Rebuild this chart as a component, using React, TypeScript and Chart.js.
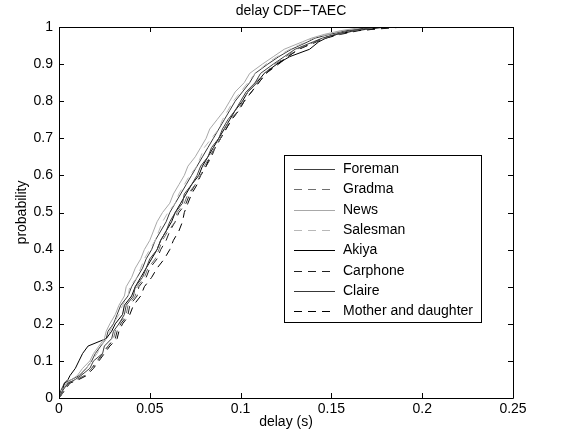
import React, { useEffect, useRef } from "react";
import { Chart, registerables } from "chart.js";

Chart.register(...registerables);

const TITLE = "delay CDF\u2212TAEC";
const X_LABEL = "delay (s)";
const Y_LABEL = "probability";

const PROB_LEVELS = [0, 0.02, 0.04, 0.05, 0.06, 0.08, 0.1, 0.12, 0.14, 0.16, 0.18, 0.2, 0.225, 0.25, 0.275, 0.3, 0.325, 0.35, 0.375, 0.4, 0.425, 0.45, 0.475, 0.5, 0.525, 0.55, 0.575, 0.6, 0.625, 0.65, 0.675, 0.7, 0.725, 0.75, 0.775, 0.8, 0.825, 0.85, 0.875, 0.9, 0.92, 0.94, 0.96, 0.97, 0.98, 0.99, 1.0];

const FOREMAN = [0, 0.002, 0.005, 0.009, 0.012, 0.017, 0.019, 0.024, 0.025, 0.029, 0.03, 0.033, 0.036, 0.037, 0.041, 0.042, 0.046, 0.048, 0.05, 0.054, 0.056, 0.059, 0.061, 0.064, 0.068, 0.069, 0.073, 0.076, 0.078, 0.082, 0.084, 0.088, 0.09, 0.093, 0.097, 0.1, 0.103, 0.108, 0.111, 0.118, 0.124, 0.13, 0.14, 0.145, 0.152, 0.16, 0.175];
const GRADMA = [0, 0.003, 0.005, 0.01, 0.014, 0.018, 0.022, 0.024, 0.027, 0.03, 0.031, 0.033, 0.037, 0.038, 0.042, 0.043, 0.047, 0.049, 0.053, 0.055, 0.057, 0.06, 0.064, 0.065, 0.069, 0.071, 0.075, 0.078, 0.08, 0.083, 0.086, 0.089, 0.091, 0.094, 0.099, 0.101, 0.104, 0.108, 0.113, 0.119, 0.125, 0.131, 0.141, 0.146, 0.153, 0.162, 0.178];
const NEWS = [0, 0.002, 0.004, 0.007, 0.01, 0.013, 0.017, 0.019, 0.022, 0.025, 0.026, 0.028, 0.031, 0.033, 0.036, 0.037, 0.04, 0.042, 0.045, 0.047, 0.05, 0.052, 0.054, 0.057, 0.061, 0.063, 0.066, 0.069, 0.071, 0.075, 0.078, 0.081, 0.083, 0.087, 0.091, 0.094, 0.097, 0.102, 0.105, 0.112, 0.118, 0.124, 0.134, 0.139, 0.146, 0.155, 0.168];
const SALESMAN = [0, 0.002, 0.004, 0.008, 0.012, 0.015, 0.018, 0.021, 0.023, 0.026, 0.028, 0.03, 0.033, 0.035, 0.038, 0.039, 0.043, 0.045, 0.047, 0.05, 0.053, 0.055, 0.057, 0.06, 0.064, 0.066, 0.069, 0.072, 0.076, 0.078, 0.08, 0.084, 0.088, 0.09, 0.093, 0.096, 0.1, 0.104, 0.108, 0.114, 0.12, 0.127, 0.136, 0.14, 0.148, 0.156, 0.172];
const AKIYA = [0, 0.002, 0.003, 0.005, 0.006, 0.009, 0.011, 0.013, 0.016, 0.026, 0.029, 0.031, 0.035, 0.036, 0.04, 0.042, 0.045, 0.048, 0.051, 0.054, 0.056, 0.059, 0.062, 0.064, 0.067, 0.07, 0.073, 0.077, 0.079, 0.082, 0.085, 0.088, 0.091, 0.094, 0.097, 0.101, 0.104, 0.109, 0.113, 0.12, 0.127, 0.138, 0.143, 0.147, 0.153, 0.163, 0.18];
const CARPHONE = [0, 0.003, 0.005, 0.01, 0.014, 0.018, 0.021, 0.024, 0.027, 0.031, 0.032, 0.034, 0.038, 0.039, 0.043, 0.044, 0.048, 0.05, 0.054, 0.056, 0.059, 0.061, 0.064, 0.066, 0.07, 0.072, 0.075, 0.078, 0.081, 0.084, 0.086, 0.089, 0.092, 0.095, 0.099, 0.102, 0.106, 0.11, 0.114, 0.121, 0.126, 0.132, 0.142, 0.147, 0.155, 0.165, 0.185];
const CLAIRE = [0, 0.001, 0.003, 0.007, 0.011, 0.015, 0.018, 0.02, 0.023, 0.026, 0.027, 0.03, 0.032, 0.034, 0.038, 0.04, 0.043, 0.046, 0.048, 0.051, 0.053, 0.056, 0.059, 0.061, 0.064, 0.067, 0.07, 0.073, 0.076, 0.079, 0.082, 0.085, 0.088, 0.091, 0.094, 0.097, 0.101, 0.105, 0.108, 0.115, 0.121, 0.128, 0.137, 0.141, 0.149, 0.158, 0.173];
const MOTHER = [0, 0.003, 0.006, 0.011, 0.015, 0.019, 0.022, 0.025, 0.028, 0.032, 0.033, 0.035, 0.039, 0.041, 0.045, 0.047, 0.051, 0.054, 0.058, 0.061, 0.063, 0.066, 0.068, 0.069, 0.071, 0.073, 0.076, 0.078, 0.081, 0.083, 0.086, 0.089, 0.092, 0.095, 0.099, 0.102, 0.106, 0.11, 0.114, 0.12, 0.126, 0.132, 0.141, 0.145, 0.153, 0.163, 0.19];

const SERIES_NAMES = ["Foreman", "Gradma", "News", "Salesman", "Akiya", "Carphone", "Claire", "Mother and daughter"];
const SERIES_VALUES = [FOREMAN, GRADMA, NEWS, SALESMAN, AKIYA, CARPHONE, CLAIRE, MOTHER];
const SERIES_COLORS = ["#404040", "#707070", "#a8a8a8", "#b8b8b8", "#000000", "#202020", "#383838", "#000000"];
const SERIES_DASHED = [false, true, false, true, false, true, false, true];

const X_TICKS = [0, 0.05, 0.1, 0.15, 0.2, 0.25];
const Y_TICKS = [0, 0.1, 0.2, 0.3, 0.4, 0.5, 0.6, 0.7, 0.8, 0.9, 1];

const FONT = "'Liberation Sans', Arial, sans-serif";

const framePlugin = {
  id: "frame",
  afterDraw(chart: any) {
    const { ctx, chartArea } = chart;
    const { left, right, top, bottom } = chartArea;
    const xs = chart.scales.x;
    const ys = chart.scales.y;
    ctx.save();
    ctx.strokeStyle = "#000";
    ctx.lineWidth = 1;
    ctx.setLineDash([]);
    ctx.beginPath();
    ctx.rect(Math.round(left) + 0.5, Math.round(top) + 0.5, Math.round(right - left), Math.round(bottom - top));
    ctx.stroke();
    const tl = 5;
    ctx.beginPath();
    X_TICKS.forEach((v) => {
      const px = Math.round(xs.getPixelForValue(v)) + 0.5;
      ctx.moveTo(px, bottom);
      ctx.lineTo(px, bottom - tl);
      ctx.moveTo(px, top);
      ctx.lineTo(px, top + tl);
    });
    Y_TICKS.forEach((v) => {
      const py = Math.round(ys.getPixelForValue(v)) + 0.5;
      ctx.moveTo(left, py);
      ctx.lineTo(left + tl, py);
      ctx.moveTo(right, py);
      ctx.lineTo(right - tl, py);
    });
    ctx.stroke();

    // title
    ctx.fillStyle = "#000";
    ctx.font = `14px ${FONT}`;
    ctx.textAlign = "center";
    ctx.textBaseline = "middle";
    ctx.fillText(TITLE, 291, 11);

    // legend
    const bx = 284, by = 155, bw = 197, bh = 167;
    ctx.fillStyle = "#fff";
    ctx.fillRect(bx, by, bw, bh);
    ctx.strokeStyle = "#000";
    ctx.strokeRect(bx + 0.5, by + 0.5, bw, bh);
    chart.data.datasets.forEach((ds: any, i: number) => {
      const y = Math.round(by + 14 + i * 20.3) + 0.5;
      ctx.strokeStyle = ds.borderColor;
      ctx.setLineDash(ds.borderDash || []);
      ctx.beginPath();
      ctx.moveTo(294, y);
      ctx.lineTo(335, y);
      ctx.stroke();
      ctx.setLineDash([]);
      ctx.fillStyle = "#000";
      ctx.textAlign = "left";
      ctx.textBaseline = "middle";
      ctx.fillText(ds.label, 343, y);
    });
    ctx.restore();
  },
};

export default function App() {
  const ref = useRef<HTMLCanvasElement | null>(null);
  useEffect(() => {
    document.body.style.margin = "0";
    const canvas = ref.current;
    if (!canvas) return;
    const datasets = SERIES_NAMES.map((name, i) => ({
      label: name,
      data: SERIES_VALUES[i].map((d, j) => ({ x: d, y: PROB_LEVELS[j] })),
      borderColor: SERIES_COLORS[i],
      borderWidth: 1,
      borderDash: SERIES_DASHED[i] ? [8, 6] : [],
      pointRadius: 0,
      tension: 0,
      fill: false,
    }));
    const chart = new Chart(canvas, {
      type: "line",
      data: { datasets },
      options: {
        animation: false,
        responsive: false,
        devicePixelRatio: 1,
        layout: { padding: { top: 27, right: 54, left: 0, bottom: 0 } },
        plugins: { legend: { display: false }, title: { display: false }, tooltip: { enabled: false } },
        scales: {
          x: {
            type: "linear",
            min: 0,
            max: 0.25,
            afterFit: (s: any) => { s.height = 45; },
            afterBuildTicks: (s: any) => { s.ticks = X_TICKS.map((v) => ({ value: v })); },
            ticks: {
              color: "#000",
              font: { size: 14, family: FONT },
              padding: 3,
              maxRotation: 0,
              autoSkip: false,
              callback: (v: any) => String(Math.round(Number(v) * 100) / 100),
            },
            grid: { display: false, drawTicks: false },
            border: { display: false },
            title: { display: true, text: X_LABEL, color: "#000", font: { size: 14, family: FONT }, padding: { top: 0, bottom: 12.6 } },
          },
          y: {
            type: "linear",
            min: 0,
            max: 1,
            afterFit: (s: any) => { s.width = 59; },
            afterBuildTicks: (s: any) => { s.ticks = Y_TICKS.map((v) => ({ value: v })); },
            ticks: {
              color: "#000",
              font: { size: 14, family: FONT },
              padding: 6,
              autoSkip: false,
              callback: (v: any) => String(Math.round(Number(v) * 10) / 10),
            },
            grid: { display: false, drawTicks: false },
            border: { display: false },
            title: { display: true, text: Y_LABEL, color: "#000", font: { size: 14, family: FONT }, padding: { top: 14, bottom: 0 } },
          },
        },
      },
      plugins: [framePlugin],
    });
    return () => chart.destroy();
  }, []);
  return <canvas ref={ref} width={567} height={443} style={{ display: "block" }} />;
}
